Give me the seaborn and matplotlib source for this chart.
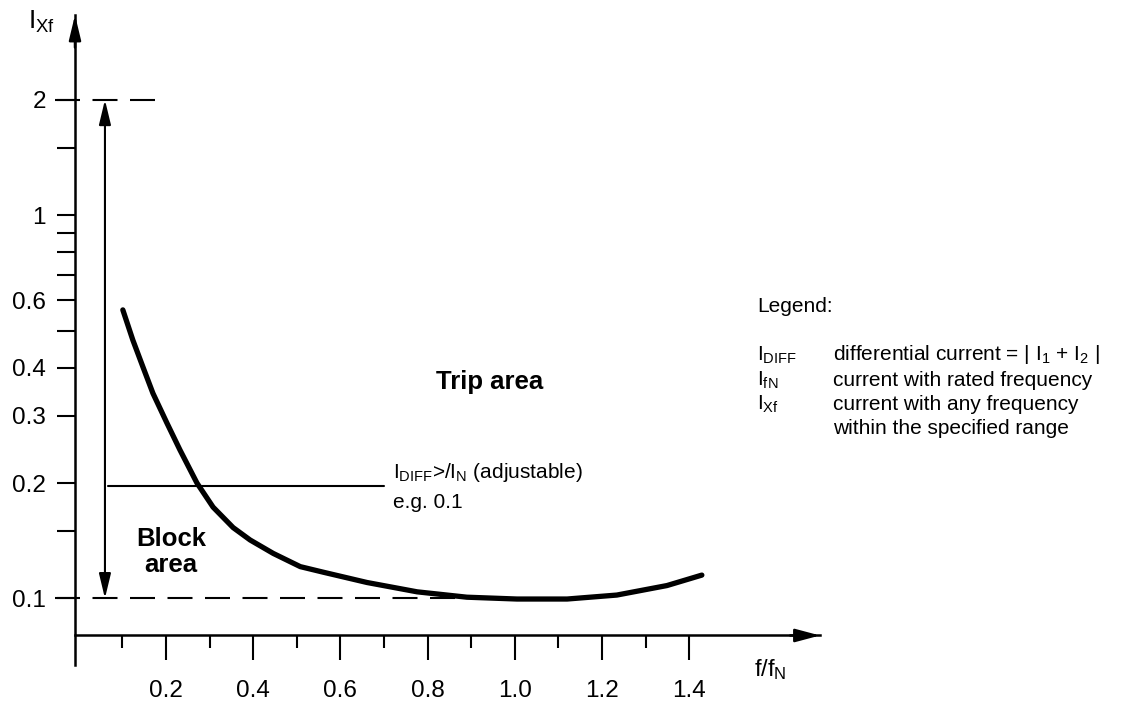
import matplotlib
matplotlib.use("Agg")
import matplotlib.pyplot as plt
from matplotlib.ticker import NullFormatter
import seaborn as sns

# curve: I_Xf pickup against f/fN
freq = [0.101, 0.124, 0.147, 0.170, 0.202, 0.232, 0.271, 0.308, 0.354,
        0.393, 0.446, 0.508, 0.561, 0.661, 0.776, 0.890, 1.005, 1.120,
        1.234, 1.349, 1.429]
current = [0.566, 0.472, 0.402, 0.343, 0.287, 0.244, 0.200, 0.173, 0.153,
           0.142, 0.131, 0.121, 0.117, 0.110, 0.104, 0.1007, 0.0996, 0.0996,
           0.102, 0.108, 0.115]

y_major = [0.1, 0.2, 0.3, 0.4, 0.6, 1, 2]
y_major_labels = ["0.1", "0.2", "0.3", "0.4", "0.6", "1", "2"]
y_minor = [0.15, 0.5, 0.7, 0.8, 0.9, 1.5]
x_major = [0.2, 0.4, 0.6, 0.8, 1.0, 1.2, 1.4]
x_major_labels = ["0.2", "0.4", "0.6", "0.8", "1.0", "1.2", "1.4"]
x_minor = [0.1, 0.3, 0.5, 0.7, 0.9, 1.1, 1.3]

setting_min, setting_max = 0.1, 2.0   # adjustable range of I_DIFF>
threshold = 0.197                      # example setting line
range_f = 0.06                         # where the range arrow stands
threshold_f = [0.067, 0.70]

sns.set_theme(style="white")
plt.rcParams["font.family"] = ["Liberation Sans", "DejaVu Sans"]
plt.rcParams["mathtext.fontset"] = "custom"
plt.rcParams["mathtext.rm"] = "Liberation Sans"
plt.rcParams["mathtext.it"] = "Liberation Sans:italic"
plt.rcParams["lines.scale_dashes"] = False
plt.rcParams.update({"text.color": "black", "xtick.color": "black",
                     "ytick.color": "black", "axes.edgecolor": "black"})

W, H = 1122, 702
fig = plt.figure(figsize=(W / 100, H / 100), dpi=100)
ax = fig.add_axes([75 / W, 37 / H, 745 / W, 650 / H])
ax.set_yscale("log")
ax.set_xlim(-0.0087, 1.70)
ax.set_ylim(0.067, 3.33)

sns.lineplot(x=freq, y=current, ax=ax, color="black", linewidth=3.8,
             sort=False, estimator=None, solid_capstyle="round",
             solid_joinstyle="round")

# dashed limits of the setting range
ax.plot([-0.055, 0.186], [setting_max, setting_max], color="black", lw=1.5,
        dashes=(18, 9), clip_on=False)
ax.plot([-0.055, 0.92], [setting_min, setting_min], color="black", lw=1.5,
        dashes=(18, 9), clip_on=False)
ax.annotate("", xy=(range_f, setting_max), xytext=(range_f, setting_min),
            arrowprops=dict(arrowstyle="<|-|>,head_length=0.75,head_width=0.18",
                            color="black", lw=1.5, shrinkA=0, shrinkB=0,
                            mutation_scale=20))
ax.plot(threshold_f, [threshold, threshold], color="black", lw=1.5)

# axes with arrows
for s in ["top", "right"]:
    ax.spines[s].set_visible(False)
ax.spines["bottom"].set_position(("data", 0.08))
ax.spines["bottom"].set_linewidth(1.8)
ax.spines["left"].set_linewidth(1.8)
ax.annotate("", xy=(0, 1), xytext=(0, 0.95), xycoords="axes fraction",
            arrowprops=dict(arrowstyle="-|>,head_length=0.75,head_width=0.18",
                            color="black", lw=1.8, shrinkA=0, shrinkB=0,
                            mutation_scale=20), annotation_clip=False)
ax.annotate("", xy=(1, 0.08), xytext=(0.96, 0.08),
            xycoords=("axes fraction", "data"),
            arrowprops=dict(arrowstyle="-|>,head_length=0.75,head_width=0.2",
                            color="black", lw=1.8, shrinkA=0, shrinkB=0,
                            mutation_scale=20), annotation_clip=False)

ax.set_yticks(y_major, y_major_labels)
ax.set_yticks(y_minor, minor=True)
ax.yaxis.set_minor_formatter(NullFormatter())
ax.tick_params(axis="y", which="both", left=True, direction="out", length=13,
               width=1.5, labelsize=17.5, pad=8)
ax.set_xticks(x_major, x_major_labels)
ax.set_xticks(x_minor, minor=True)
ax.xaxis.set_minor_formatter(NullFormatter())
ax.tick_params(axis="x", which="major", bottom=True, direction="out",
               length=18, width=1.5, labelsize=17.5, pad=14)
ax.tick_params(axis="x", which="minor", bottom=True, direction="out",
               length=9, width=1.5)

# axis names
fig.text(28 / W, 1 - 22 / H, r"$\mathrm{I}_{\mathrm{Xf}}$", fontsize=19,
         va="center", ha="left")
fig.text(754 / W, 1 - 670 / H, r"$\mathrm{f/f}_{\mathrm{N}}$", fontsize=17,
         va="center", ha="left")

# areas
ax.text(0.943, 0.367, "Trip area", fontsize=18.5, fontweight="bold",
        ha="center", va="center")
ax.text(0.211, 0.132, "Block\narea", fontsize=18.5, fontweight="bold",
        ha="center", va="center", linespacing=1.1)

fig.text(393 / W, 1 - 472 / H,
         r"$\mathrm{I}_{\mathrm{DIFF}}$>/$\mathrm{I}_{\mathrm{N}}$ (adjustable)",
         fontsize=15, va="center", ha="left")
fig.text(393 / W, 1 - 502 / H, "e.g. 0.1", fontsize=15, va="center",
         ha="left")

# legend block
fig.text(757 / W, 1 - 307 / H, "Legend:", fontsize=15, va="center")
legend_symbols = [r"$\mathrm{I}_{\mathrm{DIFF}}$", r"$\mathrm{I}_{\mathrm{fN}}$",
                  r"$\mathrm{I}_{\mathrm{Xf}}$", ""]
legend_texts = [r"differential current = | $\mathrm{I}_1$ + $\mathrm{I}_2$ |",
                "current with rated frequency",
                "current with any frequency",
                "within the specified range"]
legend_rows = [355, 380, 404, 428]
for sym, txt, row in zip(legend_symbols, legend_texts, legend_rows):
    if sym:
        fig.text(757 / W, 1 - row / H, sym, fontsize=15, va="center")
    fig.text(833 / W, 1 - row / H, txt, fontsize=15, va="center")

fig.savefig("out.png", dpi=100)
